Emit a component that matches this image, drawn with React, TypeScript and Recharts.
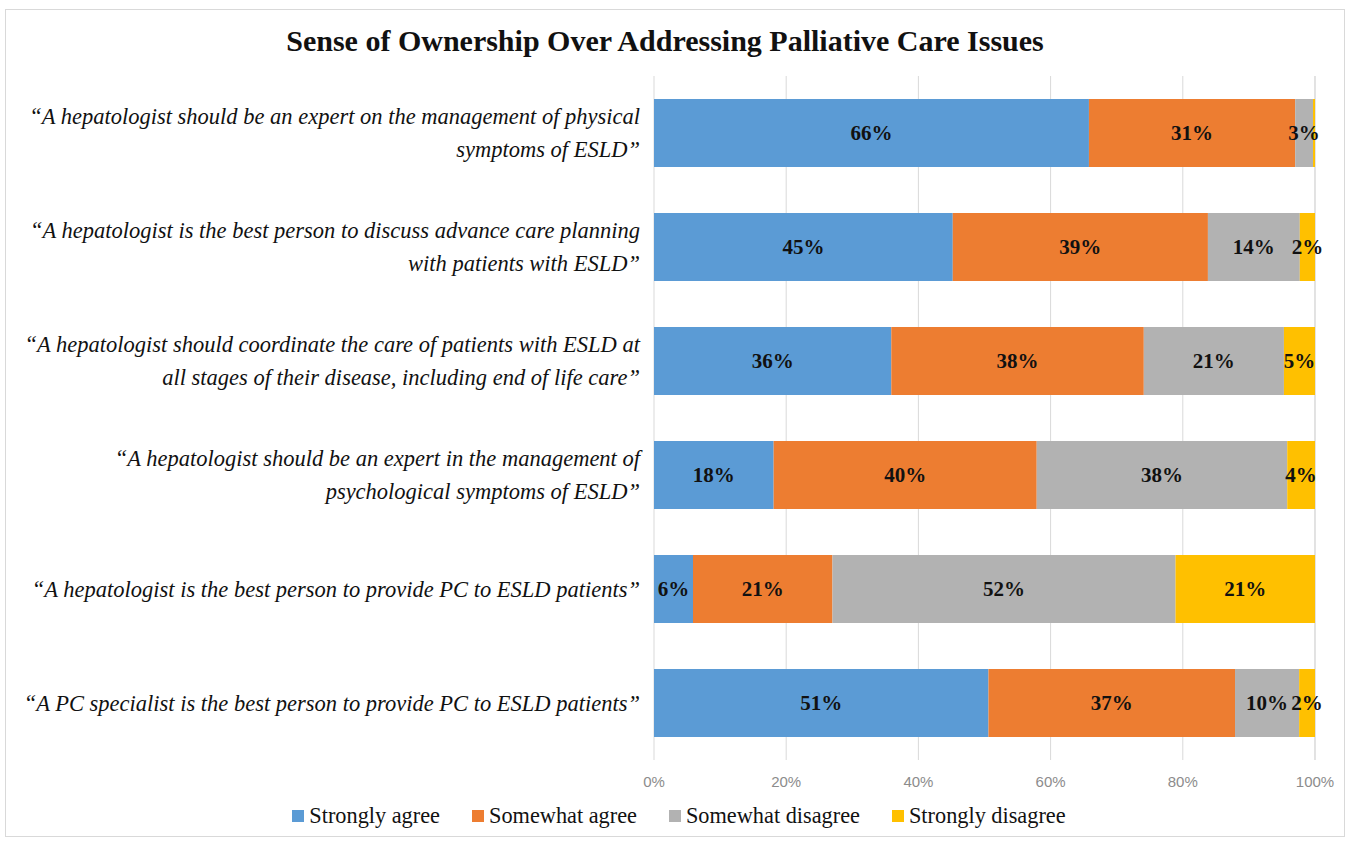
import React from 'react';
import { BarChart, Bar, XAxis, YAxis, CartesianGrid, LabelList } from 'recharts';

const statements = [
  ['\u201CA hepatologist should be an expert on the management of physical', 'symptoms of ESLD\u201D'],
  ['\u201CA hepatologist is the best person to discuss advance care planning', 'with patients with ESLD\u201D'],
  ['\u201CA hepatologist should coordinate the care of patients with ESLD at', 'all stages of their disease, including end of life care\u201D'],
  ['\u201CA hepatologist should be an expert in the management of', 'psychological symptoms of ESLD\u201D'],
  ['\u201CA hepatologist is the best person to provide PC to ESLD patients\u201D'],
  ['\u201CA PC specialist is the best person to provide PC to ESLD patients\u201D'],
];

const stronglyAgree = [65.8, 45.2, 35.9, 18.1, 5.9, 50.6];
const somewhatAgree = [31.2, 38.6, 38.2, 39.8, 21.1, 37.3];
const somewhatDisagree = [2.7, 13.9, 21.2, 37.9, 51.9, 9.7];
const stronglyDisagree = [0.3, 2.3, 4.7, 4.2, 21.1, 2.4];

const xTicks = [0, 20, 40, 60, 80, 100];

const series = [
  { key: 'sa', name: 'Strongly agree', color: '#5B9BD5', values: stronglyAgree },
  { key: 'wa', name: 'Somewhat agree', color: '#ED7D31', values: somewhatAgree },
  { key: 'wd', name: 'Somewhat disagree', color: '#B2B2B2', values: somewhatDisagree },
  { key: 'sd', name: 'Strongly disagree', color: '#FFC000', values: stronglyDisagree },
];

const data = statements.map((lines, i) => {
  const row: any = { idx: i };
  series.forEach((s) => { row[s.key] = s.values[i]; });
  return row;
});

const serif = '"Liberation Serif", "Times New Roman", serif';

const StatementTick = (props: any) => {
  const { x, y, payload } = props;
  const lines = statements[payload.value];
  const lh = 33;
  const startY = y - ((lines.length - 1) * lh) / 2;
  return (
    <text x={x} y={startY} textAnchor="end" fontFamily={serif} fontStyle="italic" fontSize={22.5} fill="#111">
      {lines.map((l, j) => (
        <tspan key={j} x={x} y={startY + j * lh} dy="0.35em">{l}</tspan>
      ))}
    </text>
  );
};

const SegmentLabel = (props: any) => {
  const { x, y, width, height, value } = props;
  if (value < 1) return null;
  return (
    <text x={x + width / 2} y={y + height / 2} dy="0.35em" textAnchor="middle" fontFamily={serif} fontWeight="bold" fontSize={21} fill="#111">
      {`${Math.round(value)}%`}
    </text>
  );
};

export default function App() {
  return (
    <div style={{ position: 'absolute', left: 0, top: 0, width: 1350, height: 842, background: '#fff' }}>
      <div style={{ position: 'absolute', left: 5, top: 9, width: 1338, height: 826, border: '1px solid #d9d9d9' }} />
      <div style={{ position: 'absolute', left: 0, top: 24, width: 1330, textAlign: 'center', fontFamily: serif, fontWeight: 'bold', fontSize: 30, color: '#111' }}>
        Sense of Ownership Over Addressing Palliative Care Issues
      </div>
      <div style={{ position: 'absolute', left: 0, top: 0 }}>
        <BarChart
          width={1350}
          height={842}
          data={data}
          layout="vertical"
          margin={{ top: 76, right: 35, bottom: 52, left: 0 }}
        >
          <CartesianGrid horizontal={false} stroke="#d9d9d9" />
          <XAxis
            type="number"
            domain={[0, 100]}
            ticks={xTicks}
            tickFormatter={(v) => `${v}%`}
            axisLine={false}
            tickLine={false}
            tickMargin={10}
            tick={{ fill: '#8c8c8c', fontSize: 15, fontFamily: '"Liberation Sans", Arial, sans-serif' }}
          />
          <YAxis
            type="category"
            dataKey="idx"
            width={654}
            axisLine={false}
            tickLine={false}
            tickSize={0}
            tickMargin={14}
            tick={<StatementTick />}
            interval={0}
          />
          {series.map((s) => (
            <Bar key={s.key} dataKey={s.key} name={s.name} stackId="a" fill={s.color} barSize={68} isAnimationActive={false}>
              <LabelList dataKey={s.key} content={<SegmentLabel />} />
            </Bar>
          ))}
        </BarChart>
      </div>
      <div style={{ position: 'absolute', left: 0, top: 803, width: 1358, display: 'flex', justifyContent: 'center', fontFamily: serif, fontSize: 22.3, color: '#111' }}>
        {series.map((s) => (
          <div key={s.key} style={{ display: 'flex', alignItems: 'center', margin: '0 16px' }}>
            <span style={{ display: 'inline-block', width: 12, height: 12, background: s.color, marginRight: 5 }} />
            <span>{s.name}</span>
          </div>
        ))}
      </div>
    </div>
  );
}
